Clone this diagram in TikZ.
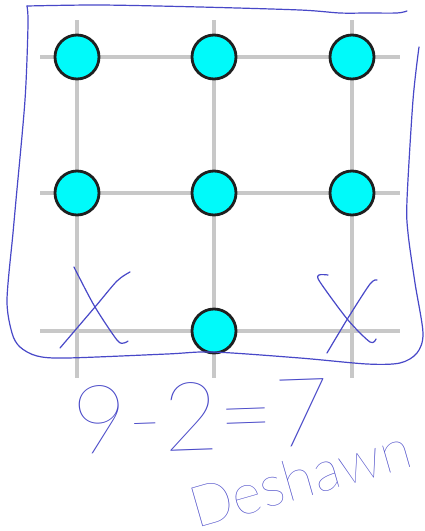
\documentclass[tikz,border=0pt]{standalone}
\usepackage{fontspec}
\IfFontExistsTF{Lato Hairline}{\newfontfamily\handfont{Lato Hairline}}{\IfFontExistsTF{Lato Light}{\newfontfamily\handfont{Lato Light}}{\newfontfamily\handfont{Lato}}}
\IfFontExistsTF{Lato Thin}{\newfontfamily\namefont{Lato Thin}}{\IfFontExistsTF{Lato Light}{\newfontfamily\namefont{Lato Light}}{\newfontfamily\namefont{Lato}}}
\definecolor{penblue}{RGB}{72,72,200}
\definecolor{gridgray}{RGB}{200,200,200}
\definecolor{dotfill}{RGB}{0,250,250}
\tikzset{
  gridline/.style={draw=gridgray, line width=4},
  dot/.style={circle, fill=dotfill, draw=black!88, line width=2.8, minimum size=44, inner sep=0},
  pen/.style={draw=penblue, line width=1.2, line cap=round, line join=round},
  hand/.style={text=penblue, inner sep=0}
}
\begin{document}
\begin{tikzpicture}[x=1pt,y=-1pt]
\useasboundingbox[fill=white] (0,0) rectangle (424,531);
% grid line ends
\coordinate (c1t) at (77,20);  \coordinate (c1b) at (77,378);
\coordinate (c2t) at (214,20); \coordinate (c2b) at (214,378);
\coordinate (c3t) at (352,20); \coordinate (c3b) at (352,378);
\coordinate (r1l) at (40,57);  \coordinate (r1r) at (400,57);
\coordinate (r2l) at (40,193); \coordinate (r2r) at (400,193);
\coordinate (r3l) at (40,331); \coordinate (r3r) at (400,331);
\draw[gridline] (c1t) -- (c1b);
\draw[gridline] (c2t) -- (c2b);
\draw[gridline] (c3t) -- (c3b);
\draw[gridline] (r1l) -- (r1r);
\draw[gridline] (r2l) -- (r2r);
\draw[gridline] (r3l) -- (r3r);
% dots
\node[dot] (a1) at (77,57) {};
\node[dot] (a2) at (214,57) {};
\node[dot] (a3) at (352,57) {};
\node[dot] (b1) at (77,193) {};
\node[dot] (b2) at (214,193) {};
\node[dot] (b3) at (352,193) {};
\node[dot] (c2) at (214,331) {};
% hand-drawn box
\draw[pen] plot[smooth, tension=0.5] coordinates {(407,11) (397,13) (367,13) (340,13) (300,10) (200,7) (100,5) (27,6)};
\draw[pen] plot[smooth, tension=0.5] coordinates {(27,6) (28,25) (25,100) (16,200) (13,233) (7,300) (12,333) (20,347) (37,356) (67,358) (167,354) (213,352) (300,358) (367,364) (400,363) (417,353) (423,333) (415,283) (408,233) (407,200) (413,100) (419,47)};
% X marks
\draw[pen] plot[smooth, tension=0.5] coordinates {(74,267) (77,273) (95,307) (117,340) (124,343) (128,341)};
\draw[pen] plot[smooth, tension=0.5] coordinates {(130,272) (117,281) (95,307) (60,348)};
\draw[pen] plot[smooth, tension=0.5] coordinates {(328,275) (319,275) (320,282) (348,320) (370,342) (376,339)};
\draw[pen] plot[smooth, tension=0.5] coordinates {(377,280) (370,284) (348,318) (327,353)};
% handwriting
\node[hand, rotate=2, font=\handfont\fontsize{96}{96}\selectfont] (eq) at (201,416) {9-2=7};
\node[hand, rotate=16, font=\namefont\fontsize{57}{57}\selectfont] (name) at (300,478) {Deshawn};
\end{tikzpicture}
\end{document}
